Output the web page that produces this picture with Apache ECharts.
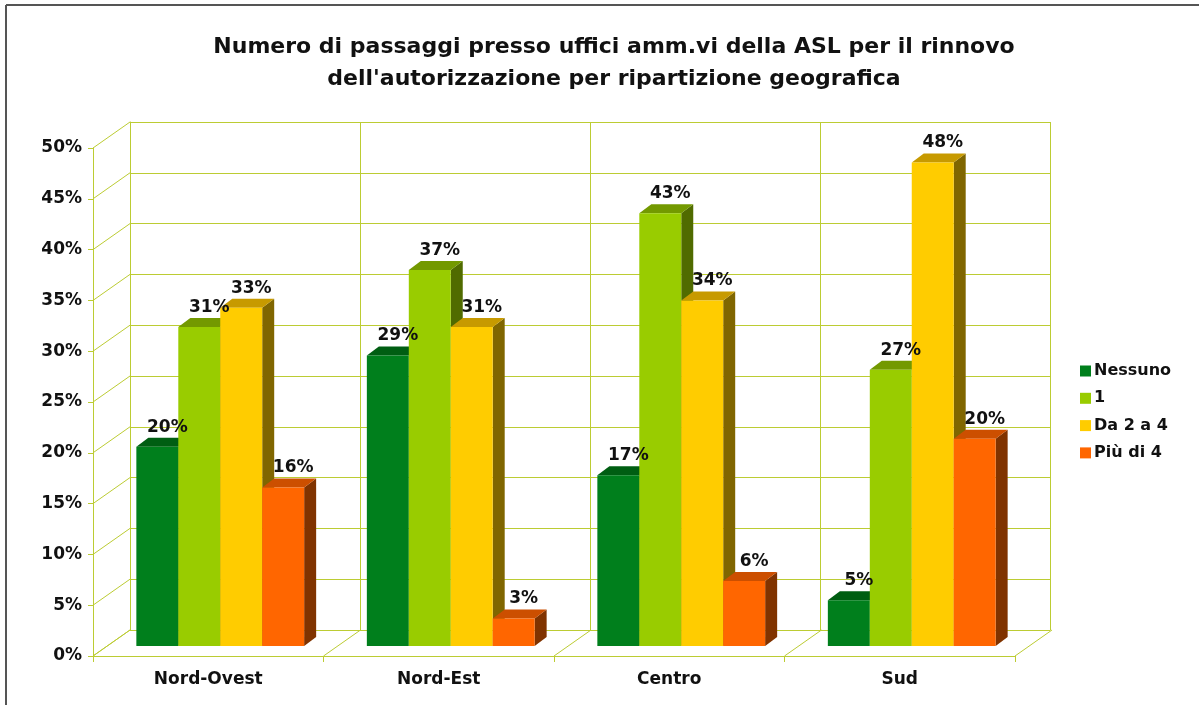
<!DOCTYPE html>
<html>
<head>
<meta charset="utf-8">
<script src="https://cdn.jsdelivr.net/npm/echarts@6/dist/echarts.min.js"></script>
<style>html,body{margin:0;padding:0;background:#fff}#c{width:1199px;height:705px}</style>
</head>
<body>
<div id="c"></div>
<script>
const categories = ['Nord-Ovest', 'Nord-Est', 'Centro', 'Sud'];
const seriesNames = ['Nessuno', '1', 'Da 2 a 4', 'Più di 4'];
const nessuno = [19.6, 28.6, 16.8, 4.5];
const uno = [31.4, 37.0, 42.6, 27.2];
const da2a4 = [33.3, 31.4, 34.0, 47.6];
const piuDi4 = [15.6, 2.7, 6.4, 20.4];
const yTicks = [0, 5, 10, 15, 20, 25, 30, 35, 40, 45, 50];
const titleLines = ['Numero di passaggi presso uffici amm.vi della ASL per il rinnovo', "dell'autorizzazione per ripartizione geografica"];

const seriesValues = [nessuno, uno, da2a4, piuDi4];
const frontColors = ['#007f1c', '#99cc00', '#ffcc00', '#ff6600'];
const topColors = ['#005e12', '#739900', '#c79a00', '#cc4f00'];
const sideColors = ['#004a0e', '#506b00', '#806600', '#803300'];
const gridColor = '#bccc33';
const FONT = '"DejaVu Sans", Verdana, sans-serif';
const WALL_DX = 37, WALL_DY = -26;
const BAR_DX = 12, BAR_DY = -9;

const chart = echarts.init(document.getElementById('c'), null, {renderer: 'canvas'});

function barRender(sIdx) {
  return function (params, api) {
    const cat = api.value(0), val = api.value(1);
    const base = api.coord([cat, 0]);
    const top = api.coord([cat, val]);
    const band = api.size([1, 0])[0];
    const bw = band * 0.182;
    const x0 = base[0] - 2 * bw + sIdx * bw;
    const x1 = x0 + bw;
    const yt = top[1], yb = base[1];
    return {
      type: 'group',
      children: [
        {type: 'polygon', shape: {points: [[x1, yt], [x1 + BAR_DX, yt + BAR_DY], [x1 + BAR_DX, yb + BAR_DY], [x1, yb]]}, style: {fill: sideColors[sIdx]}},
        {type: 'polygon', shape: {points: [[x0, yt], [x1, yt], [x1 + BAR_DX, yt + BAR_DY], [x0 + BAR_DX, yt + BAR_DY]]}, style: {fill: topColors[sIdx]}},
        {type: 'rect', shape: {x: x0, y: yt, width: bw, height: yb - yt}, style: {fill: frontColors[sIdx]}},
        {type: 'text', x: x0 + bw / 2 + 10, y: yt - 11, z2: 10, style: {text: Math.round(val) + '%', fill: '#111', font: 'bold 17px ' + FONT, align: 'center', verticalAlign: 'bottom'}}
      ]
    };
  };
}

const barSeries = seriesNames.map((name, i) => ({
  name: name,
  type: 'custom',
  xAxisIndex: 2, yAxisIndex: 2,
  itemStyle: {color: frontColors[i]},
  renderItem: barRender(i),
  data: categories.map((c, j) => [j, seriesValues[i][j]]),
  z: 5
}));

const depthY = {
  type: 'custom', xAxisIndex: 0, yAxisIndex: 0, silent: true, z: 1,
  renderItem: function (params, api) {
    const p = api.coord([0, api.value(0)]);
    const band = api.size([1, 0])[0];
    const x = p[0] - band / 2;
    return {type: 'line', shape: {x1: x, y1: p[1], x2: x + WALL_DX, y2: p[1] + WALL_DY}, style: {stroke: gridColor, lineWidth: 1}};
  },
  data: yTicks.map(v => [v])
};
const depthX = {
  type: 'custom', xAxisIndex: 0, yAxisIndex: 0, silent: true, z: 1,
  renderItem: function (params, api) {
    const k = api.value(0);
    const band = api.size([1, 0])[0];
    const p = api.coord([0, 0]);
    const x = p[0] - band / 2 + k * band;
    return {type: 'line', shape: {x1: x, y1: p[1], x2: x + WALL_DX, y2: p[1] + WALL_DY}, style: {stroke: gridColor, lineWidth: 1}};
  },
  data: [0, 1, 2, 3, 4].map(v => [v])
};

chart.setOption({
  animation: false,
  backgroundColor: '#ffffff',
  title: {
    text: titleLines.join('\n'),
    left: 609, top: 26, textAlign: 'center',
    textStyle: {fontFamily: FONT, fontWeight: 'bold', fontSize: 22, lineHeight: 32, color: '#111'}
  },
  legend: {
    orient: 'vertical', left: 1075, top: 358,
    itemWidth: 11, itemHeight: 11, itemGap: 11.3, icon: 'rect',
    data: seriesNames,
    textStyle: {fontFamily: FONT, fontWeight: 'bold', fontSize: 16, color: '#111', padding: [0, 0, 0, -2]}
  },
  graphic: [
    {type: 'line', shape: {x1: 6, y1: 5, x2: 1199, y2: 5}, style: {stroke: '#555', lineWidth: 2}},
    {type: 'line', shape: {x1: 6, y1: 5, x2: 6, y2: 705}, style: {stroke: '#555', lineWidth: 2}}
  ],
  grid: [
    {left: 93, top: 148, width: 922, height: 508},
    {left: 130, top: 122, width: 920, height: 508},
    {left: 105, top: 138, width: 922, height: 508}
  ],
  xAxis: [
    {type: 'category', gridIndex: 0, data: categories, boundaryGap: true,
     axisLine: {show: true, lineStyle: {color: gridColor, width: 1}},
     axisTick: {show: true, length: 6, lineStyle: {color: gridColor}},
     axisLabel: {fontFamily: FONT, fontWeight: 'bold', fontSize: 17, color: '#111', margin: 15},
     splitLine: {show: false}},
    {type: 'category', gridIndex: 1, data: categories, boundaryGap: true,
     axisLine: {show: true, lineStyle: {color: gridColor, width: 1}},
     axisTick: {show: false}, axisLabel: {show: false},
     splitLine: {show: true, lineStyle: {color: gridColor, width: 1}}},
    {type: 'category', gridIndex: 2, data: categories, boundaryGap: true, show: false}
  ],
  yAxis: [
    {type: 'value', gridIndex: 0, min: 0, max: 50, interval: 5,
     axisLine: {show: true, lineStyle: {color: gridColor, width: 1}},
     axisTick: {show: true, length: 5, lineStyle: {color: gridColor}},
     axisLabel: {formatter: '{value}%', fontFamily: FONT, fontWeight: 'bold', fontSize: 17, color: '#111', margin: 11},
     splitLine: {show: false}},
    {type: 'value', gridIndex: 1, min: 0, max: 50, interval: 5,
     axisLine: {show: true, lineStyle: {color: gridColor, width: 1}},
     axisTick: {show: false}, axisLabel: {show: false},
     splitLine: {show: true, lineStyle: {color: gridColor, width: 1}}},
    {type: 'value', gridIndex: 2, min: 0, max: 50, interval: 5, show: false}
  ],
  series: [depthY, depthX].concat(barSeries)
});
</script>
</body>
</html>
